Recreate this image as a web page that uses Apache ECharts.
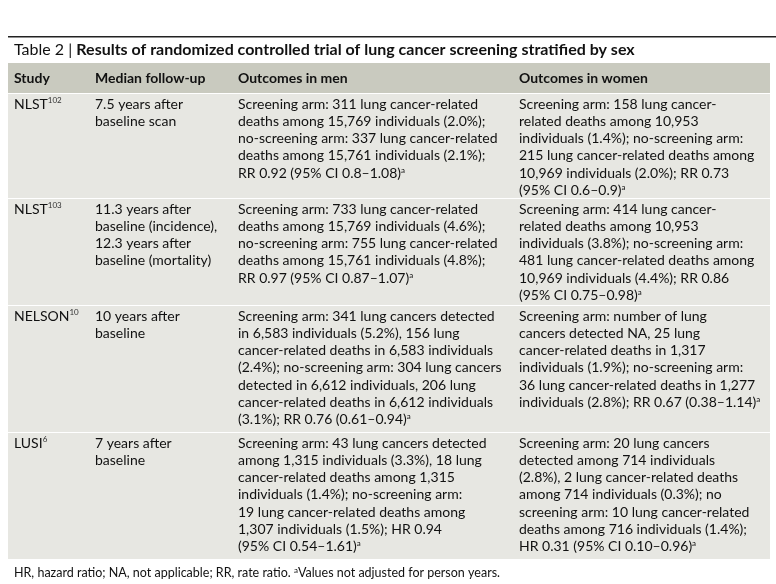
<!DOCTYPE html><html><head><meta charset="utf-8">
<script src="https://cdn.jsdelivr.net/npm/echarts@6/dist/echarts.min.js"></script>
<style>html,body{margin:0;padding:0;background:#fff}#c{width:776px;height:584px}</style></head><body><div id="c"></div>
<script>
const title = "Table 2 | Results of randomized controlled trial of lung cancer screening stratified by sex";
const headers = ["Study","Median follow-up","Outcomes in men","Outcomes in women"];
const studies = [["NLST","102"],["NLST","103"],["NELSON","10"],["LUSI","6"]];
const followUp = [
 ["7.5 years after","baseline scan"],
 ["11.3 years after","baseline (incidence),","12.3 years after","baseline (mortality)"],
 ["10 years after","baseline"],
 ["7 years after","baseline"]];
const men = [
 ["Screening arm: 311 lung cancer-related","deaths among 15,769 individuals (2.0%);","no-screening arm: 337 lung cancer-related","deaths among 15,761 individuals (2.1%);","RR 0.92 (95% CI 0.8–1.08)^a"],
 ["Screening arm: 733 lung cancer-related","deaths among 15,769 individuals (4.6%);","no-screening arm: 755 lung cancer-related","deaths among 15,761 individuals (4.8%);","RR 0.97 (95% CI 0.87–1.07)^a"],
 ["Screening arm: 341 lung cancers detected","in 6,583 individuals (5.2%), 156 lung","cancer-related deaths in 6,583 individuals","(2.4%); no-screening arm: 304 lung cancers","detected in 6,612 individuals, 206 lung","cancer-related deaths in 6,612 individuals","(3.1%); RR 0.76 (0.61–0.94)^a"],
 ["Screening arm: 43 lung cancers detected","among 1,315 individuals (3.3%), 18 lung","cancer-related deaths among 1,315","individuals (1.4%); no-screening arm:","19 lung cancer-related deaths among","1,307 individuals (1.5%); HR 0.94","(95% CI 0.54–1.61)^a"]];
const women = [
 ["Screening arm: 158 lung cancer-","related deaths among 10,953","individuals (1.4%); no-screening arm:","215 lung cancer-related deaths among","10,969 individuals (2.0%); RR 0.73","(95% CI 0.6–0.9)^a"],
 ["Screening arm: 414 lung cancer-","related deaths among 10,953","individuals (3.8%); no-screening arm:","481 lung cancer-related deaths among","10,969 individuals (4.4%); RR 0.86","(95% CI 0.75–0.98)^a"],
 ["Screening arm: number of lung","cancers detected NA, 25 lung","cancer-related deaths in 1,317","individuals (1.9%); no-screening arm:","36 lung cancer-related deaths in 1,277","individuals (2.8%); RR 0.67 (0.38–1.14)^a"],
 ["Screening arm: 20 lung cancers","detected among 714 individuals","(2.8%), 2 lung cancer-related deaths","among 714 individuals (0.3%); no","screening arm: 10 lung cancer-related","deaths among 716 individuals (1.4%);","HR 0.31 (95% CI 0.10–0.96)^a"]];
const footnote = "HR, hazard ratio; NA, not applicable; RR, rate ratio. ^aValues not adjusted for person years.";

const F = 'Lato, "Open Sans", sans-serif';
const colX = [14, 95, 238, 519];
const rowTop = [94, 199, 306, 433];
const rowBot = [198, 305, 432, 559];
const LH = 17.3;
const g = [];
function sup(s){ return s.replace(/\^(\w)/g, '{s|$1}'); }
const rich = {s:{fontSize:8, verticalAlign:'top', fontFamily:F, fill:'#111', padding:[0,0,6,0]}};
function txt(x,y,s,opts){ g.push({type:'text', x:x, y:y, style:Object.assign({text:sup(s), font:'14px '+F, fill:'#111', textVerticalAlign:'middle', rich:rich}, opts||{})}); }
g.push({type:'rect', shape:{x:8,y:36,width:768,height:1.5}, style:{fill:'#222'}});
g.push({type:'text', x:14, y:50, style:{text:'Table 2 | {b|'+title.split('| ')[1]+'}', font:'16px '+F, fill:'#111', textVerticalAlign:'middle', rich:{b:{font:'bold 16px '+F, fill:'#111'}}}});
g.push({type:'rect', shape:{x:8,y:63,width:762,height:30}, style:{fill:'#c9cabf'}});
headers.forEach((h,i)=>txt(colX[i],78,h,{font:'bold 14px '+F}));
for(let r=0;r<4;r++){
  g.push({type:'rect', shape:{x:8,y:rowTop[r],width:762,height:rowBot[r]-rowTop[r]}, style:{fill:'#e7e7e2'}});
  const y0 = rowTop[r]+10;
  g.push({type:'text', x:colX[0], y:y0, style:{text:studies[r][0]+'{s|'+studies[r][1]+'}', font:'14px '+F, fill:'#111', textVerticalAlign:'middle', rich:{s:{fontSize:8, fill:'#333', fontFamily:F, padding:[0,0,8,0]}}}});
  [followUp[r], men[r], women[r]].forEach((lines,c)=>lines.forEach((l,k)=>txt(colX[c+1], y0+k*LH, l)));
}
txt(14,573,footnote,{font:'12.5px '+F});
const ch = echarts.init(document.getElementById('c'));
ch.setOption({animation:false, graphic:{elements:g}});
</script></body></html>
